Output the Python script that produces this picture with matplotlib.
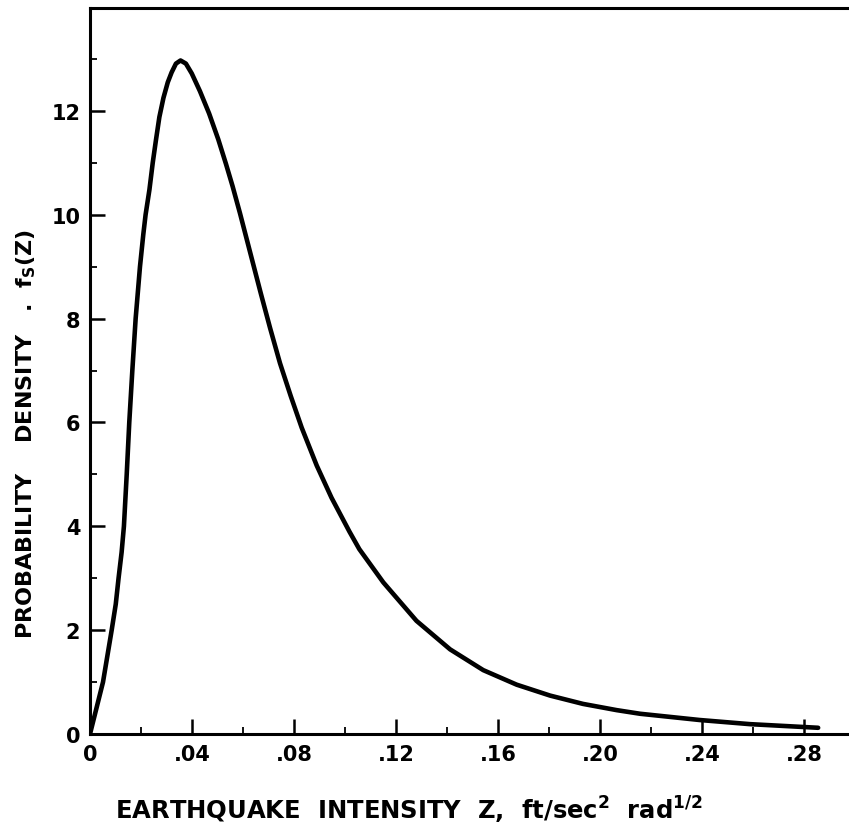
import matplotlib.pyplot as plt
from matplotlib.ticker import MultipleLocator, FixedFormatter, FixedLocator

# probability density f_S(z) against earthquake intensity z
z = [0.0, 0.0051, 0.0068, 0.0085, 0.0101, 0.0112, 0.0124, 0.0133, 0.0144,
     0.0154, 0.0166, 0.0179, 0.0196, 0.0209, 0.0218, 0.0233, 0.0246, 0.0259,
     0.0272, 0.0288, 0.0305, 0.0320, 0.0337, 0.0355, 0.0376, 0.0399, 0.0431,
     0.0467, 0.0503, 0.0533, 0.0559, 0.0588, 0.0634, 0.0670, 0.0706, 0.0745,
     0.0787, 0.0830, 0.0889, 0.0947, 0.1017, 0.1056, 0.1150, 0.1280, 0.1412,
     0.1542, 0.1673, 0.1804, 0.1933, 0.2065, 0.2157, 0.2390, 0.2588, 0.2855]
f = [0.0, 1.0, 1.5, 2.0, 2.5, 3.0, 3.5, 4.0, 5.0,
     6.0, 7.0, 8.0, 9.0, 9.62, 10.0, 10.48, 11.0, 11.45,
     11.88, 12.25, 12.55, 12.74, 12.91, 12.97, 12.91, 12.72, 12.38,
     11.95, 11.45, 10.98, 10.55, 10.03, 9.16, 8.48, 7.82, 7.14,
     6.51, 5.90, 5.17, 4.55, 3.90, 3.56, 2.92, 2.18, 1.63,
     1.23, 0.95, 0.74, 0.58, 0.46, 0.39, 0.27, 0.19, 0.12]

x_ticks = [0, 0.04, 0.08, 0.12, 0.16, 0.20, 0.24, 0.28]
x_labels = ["0", ".04", ".08", ".12", ".16", ".20", ".24", ".28"]
y_ticks = [0, 2, 4, 6, 8, 10, 12]
y_labels = ["0", "2", "4", "6", "8", "10", "12"]

plt.rcParams["font.family"] = ["DejaVu Sans"]
plt.rcParams["font.weight"] = "bold"
plt.rcParams["mathtext.default"] = "bf"

fig = plt.figure(figsize=(8.49, 8.28), dpi=100)
ax = fig.add_axes([0.106, 0.1123, 0.894, 0.8768])

ax.plot(z, f, color="black", lw=3.3, solid_capstyle="round",
        solid_joinstyle="round")

ax.set_xlim(0, 0.2976)
ax.set_ylim(0, 13.98)

ax.xaxis.set_major_locator(FixedLocator(x_ticks))
ax.xaxis.set_major_formatter(FixedFormatter(x_labels))
ax.xaxis.set_minor_locator(MultipleLocator(0.02))
ax.yaxis.set_major_locator(FixedLocator(y_ticks))
ax.yaxis.set_major_formatter(FixedFormatter(y_labels))
ax.yaxis.set_minor_locator(MultipleLocator(1))

ax.tick_params(which="major", direction="in", length=10.5, width=1.8,
               labelsize=15, pad=7)
ax.tick_params(which="minor", direction="in", length=5, width=1.3)

for side in ["left", "bottom", "top"]:
    ax.spines[side].set_linewidth(2.2)
ax.spines["right"].set_visible(False)

ax.set_xlabel(r"EARTHQUAKE  INTENSITY  Z,  ft/sec$^2$  rad$^{1/2}$",
              fontsize=17.5, fontweight="bold")
ax.xaxis.set_label_coords(0.42, -0.083)
ax.set_ylabel(r"PROBABILITY    DENSITY   .  f$_S$(Z)",
              fontsize=16, fontweight="bold")
ax.yaxis.set_label_coords(-0.068, 0.415)

fig.savefig("out.png", dpi=100)
